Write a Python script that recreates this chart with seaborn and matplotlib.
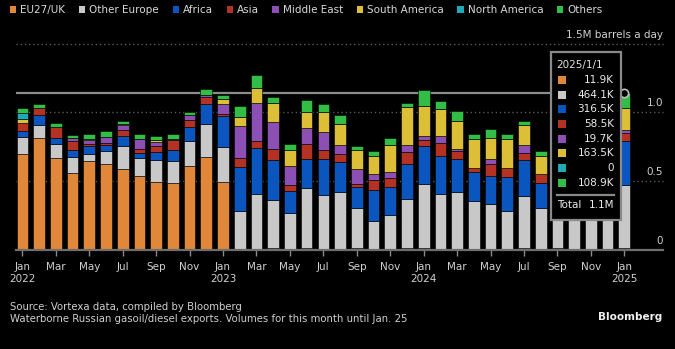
import matplotlib
matplotlib.use("Agg")
import matplotlib.pyplot as plt
from matplotlib import font_manager as fm
from matplotlib.patches import Rectangle
from matplotlib.lines import Line2D
import matplotlib.transforms as mtransforms
import seaborn as sns
import numpy as np

# ---------------- data (million barrels a day) ----------------
months = [f"{y}-{m:02d}" for y in (2022, 2023, 2024) for m in range(1, 13)] + ["2025-01"]
tick_labels = ["Jan\n2022", "Mar", "May", "Jul", "Sep", "Nov",
               "Jan\n2023", "Mar", "May", "Jul", "Sep", "Nov",
               "Jan\n2024", "Mar", "May", "Jul", "Sep", "Nov",
               "Jan\n2025"]

eu_uk = [0.700, 0.817, 0.669, 0.563, 0.650, 0.626, 0.592, 0.541, 0.498, 0.490, 0.614, 0.674,
         0.495, 0.010, 0.008, 0.015, 0.005, 0.017, 0.008, 0.005, 0.017, 0.005, 0.005, 0.017,
         0.012, 0.005, 0.005, 0.005, 0.005, 0.005, 0.017, 0.005, 0.015, 0.005, 0.005, 0.005,
         0.0119]
other_europe = [0.120, 0.091, 0.104, 0.113, 0.050, 0.094, 0.167, 0.131, 0.154, 0.157, 0.176, 0.244,
                0.256, 0.273, 0.400, 0.347, 0.266, 0.435, 0.395, 0.415, 0.285, 0.208, 0.253, 0.353,
                0.469, 0.403, 0.418, 0.352, 0.333, 0.280, 0.374, 0.302, 0.360, 0.330, 0.320, 0.340,
                0.4641]
africa = [0.045, 0.070, 0.041, 0.049, 0.056, 0.046, 0.069, 0.033, 0.058, 0.083, 0.104, 0.145,
          0.220, 0.321, 0.336, 0.290, 0.157, 0.207, 0.256, 0.220, 0.157, 0.222, 0.201, 0.258,
          0.275, 0.278, 0.236, 0.210, 0.201, 0.246, 0.261, 0.183, 0.230, 0.250, 0.260, 0.270,
          0.3165]
asia = [0.060, 0.053, 0.082, 0.067, 0.017, 0.014, 0.042, 0.027, 0.046, 0.067, 0.048, 0.048,
        0.019, 0.068, 0.046, 0.080, 0.041, 0.111, 0.071, 0.056, 0.024, 0.077, 0.068, 0.082,
        0.046, 0.094, 0.058, 0.032, 0.089, 0.068, 0.056, 0.066, 0.060, 0.050, 0.060, 0.060,
        0.0585]
middle_east = [0.000, 0.000, 0.000, 0.025, 0.029, 0.041, 0.041, 0.075, 0.029, 0.012, 0.036, 0.015,
               0.068, 0.229, 0.280, 0.198, 0.142, 0.119, 0.125, 0.065, 0.109, 0.039, 0.038, 0.051,
               0.029, 0.051, 0.020, 0.000, 0.034, 0.000, 0.058, 0.000, 0.020, 0.020, 0.020, 0.020,
               0.0197]
south_america = [0.030, 0.000, 0.000, 0.000, 0.005, 0.000, 0.005, 0.000, 0.012, 0.000, 0.000, 0.000,
                 0.041, 0.065, 0.106, 0.138, 0.114, 0.113, 0.152, 0.157, 0.133, 0.132, 0.201, 0.278,
                 0.215, 0.196, 0.200, 0.210, 0.152, 0.208, 0.140, 0.125, 0.150, 0.150, 0.160, 0.170,
                 0.1635]
north_america = [0.044] + [0.0] * 36
others = [0.030, 0.032, 0.024, 0.016, 0.038, 0.044, 0.019, 0.038, 0.034, 0.036, 0.029, 0.045,
          0.031, 0.082, 0.097, 0.048, 0.043, 0.090, 0.056, 0.063, 0.031, 0.034, 0.051, 0.031,
          0.118, 0.060, 0.075, 0.032, 0.065, 0.034, 0.031, 0.036, 0.050, 0.050, 0.050, 0.050,
          0.1089]

series_names = ["EU27/UK", "Other Europe", "Africa", "Asia", "Middle East",
                "South America", "North America", "Others"]
series_values = [eu_uk, other_europe, africa, asia, middle_east, south_america, north_america, others]
series_colors = ["#E1873A", "#C8C8C8", "#0A55BE", "#B43223", "#8C50B4",
                 "#DCBE37", "#1EAAB9", "#32BE46"]
tooltip_date = "2025/1/1"

# ---------------- fonts ----------------
names_avail = {f.name for f in fm.fontManager.ttflist}
if "Liberation Sans Narrow" in names_avail:
    FONT = "Liberation Sans Narrow"
    FS = 9.5
    FS_FOOT = 9.2
else:
    FONT = "DejaVu Sans"
    FS = 7.5
    FS_FOOT = 7.3
plt.rcParams["font.family"] = [FONT, "DejaVu Sans"]

W, H = 675, 349
fig = plt.figure(figsize=(W / 100, H / 100), dpi=100, facecolor="black")

def fx(px):
    return px / W

def fy(py):
    return 1 - py / H

ax_left, ax_right, ax_bottom, ax_top = 16, 663, 250, 43.7
ax = fig.add_axes([fx(ax_left), fy(ax_bottom), fx(ax_right - ax_left), (ax_bottom - ax_top) / H])
ax.set_facecolor("black")

bottom = np.zeros(len(months))
for name, vals, col in zip(series_names, series_values, series_colors):
    vals = np.asarray(vals, dtype=float)
    sns.barplot(x=months, y=vals, color=col, saturation=1, bottom=bottom.copy(), width=0.7,
                errorbar=None, ax=ax, edgecolor="black", linewidth=0.4, zorder=3)
    bottom += vals
totals = bottom

# axes limits so that bar centres sit where the reference has them
n = len(months)
ax.set_ylim(0, 1.5)
x0 = (ax_left - 22.4) / 16.72
x1 = (ax_right - 22.4) / 16.72
ax.set_xlim(x0, x1)

# gridlines
for gv in (0.5, 1.0, 1.5):
    ax.axhline(gv, color="#5a5a5a", lw=1.0, ls=(0, (1, 2)), zorder=1, clip_on=False)

# spines
for s in ("top", "right", "left"):
    ax.spines[s].set_visible(False)
ax.spines["bottom"].set_color("#6e6e6e")
ax.spines["bottom"].set_linewidth(1.6)
ax.spines["bottom"].set_zorder(4)

ax.set_yticks([])
ax.set_xticks(range(0, n, 2))
ax.set_xticklabels(tick_labels, fontsize=FS, color="#d0d0d0", linespacing=1.25)
ax.tick_params(axis="x", length=4, width=1, color="#8a8a8a", pad=5)
ax.set_xlabel("")
ax.set_ylabel("")

# right-side value labels above gridlines
trans = mtransforms.blended_transform_factory(ax.transAxes, ax.transData)
offset = mtransforms.offset_copy(trans, fig=fig, x=0, y=4, units="dots")
for val, lab in ((0, "0"), (0.5, "0.5"), (1.0, "1.0"), (1.5, "1.5M barrels a day")):
    ax.text(1.0, val, lab, transform=offset, ha="right", va="bottom",
            fontsize=FS, color="#d0d0d0", clip_on=False)

# crosshair on last bar
last = n - 1
ax.hlines(totals[last], xmin=x0, xmax=last, color="#8c8c8c", lw=1.6, zorder=2)
ax.scatter([last], [totals[last]], s=36, facecolor="black", edgecolor="#bdbdbd",
           linewidth=1.2, zorder=6)

# legend
handles = [Rectangle((0, 0), 1, 1, facecolor=c, edgecolor="none") for c in series_colors]
fig.legend(handles, series_names, loc="upper left", bbox_to_anchor=(fx(10), fy(5)),
           ncol=len(series_names), frameon=False, handlelength=0.6, handleheight=0.6,
           handletextpad=0.4, columnspacing=1.3, borderaxespad=0, borderpad=0,
           fontsize=FS, labelcolor="#d8d8d8")

# tooltip box
tb_l, tb_r, tb_t, tb_b = 551, 621, 52, 220
fig.add_artist(Rectangle((fx(tb_l), fy(tb_b)), fx(tb_r - tb_l), (tb_b - tb_t) / H,
                         transform=fig.transFigure, facecolor="black",
                         edgecolor="#8a8a8a", lw=1.6, zorder=10))
fig.text(fx(556.5), fy(65), tooltip_date, ha="left", va="center", fontsize=FS,
         color="#e0e0e0", zorder=11)
row_y = [80, 94.5, 109.3, 123.8, 138.7, 152.8, 168.3, 183.3]
for ry, vals, col in zip(row_y, series_values, series_colors):
    v = vals[last]
    txt = "0" if v == 0 else f"{v * 1000:.1f}K"
    fig.add_artist(Rectangle((fx(557.5), fy(ry + 4)), fx(8), 8 / H, transform=fig.transFigure,
                             facecolor=col, edgecolor="none", zorder=11))
    fig.text(fx(614), fy(ry), txt, ha="right", va="center", fontsize=FS,
             color="#ececec", zorder=11)
fig.add_artist(Line2D([fx(557), fx(614)], [fy(195), fy(195)], transform=fig.transFigure,
                      color="#8a8a8a", lw=1.6, zorder=11))
fig.text(fx(557), fy(205), "Total", ha="left", va="center", fontsize=FS, color="#ececec", zorder=11)
fig.text(fx(614), fy(205), f"{totals[last]:.1f}M", ha="right", va="center", fontsize=FS,
         color="#ececec", zorder=11)

# footer
fig.text(fx(10), fy(307), "Source: Vortexa data, compiled by Bloomberg", ha="left", va="center",
         fontsize=FS_FOOT, color="#cfcfcf")
fig.text(fx(10), fy(319.5), "Waterborne Russian gasoil/diesel exports. Volumes for this month until Jan. 25",
         ha="left", va="center", fontsize=FS_FOOT, color="#cfcfcf")
fig.text(fx(662), fy(317), "Bloomberg", ha="right", va="center", fontsize=FS,
         color="#f0f0f0", fontweight="bold")

fig.savefig("out.png", dpi=100, facecolor="black")
